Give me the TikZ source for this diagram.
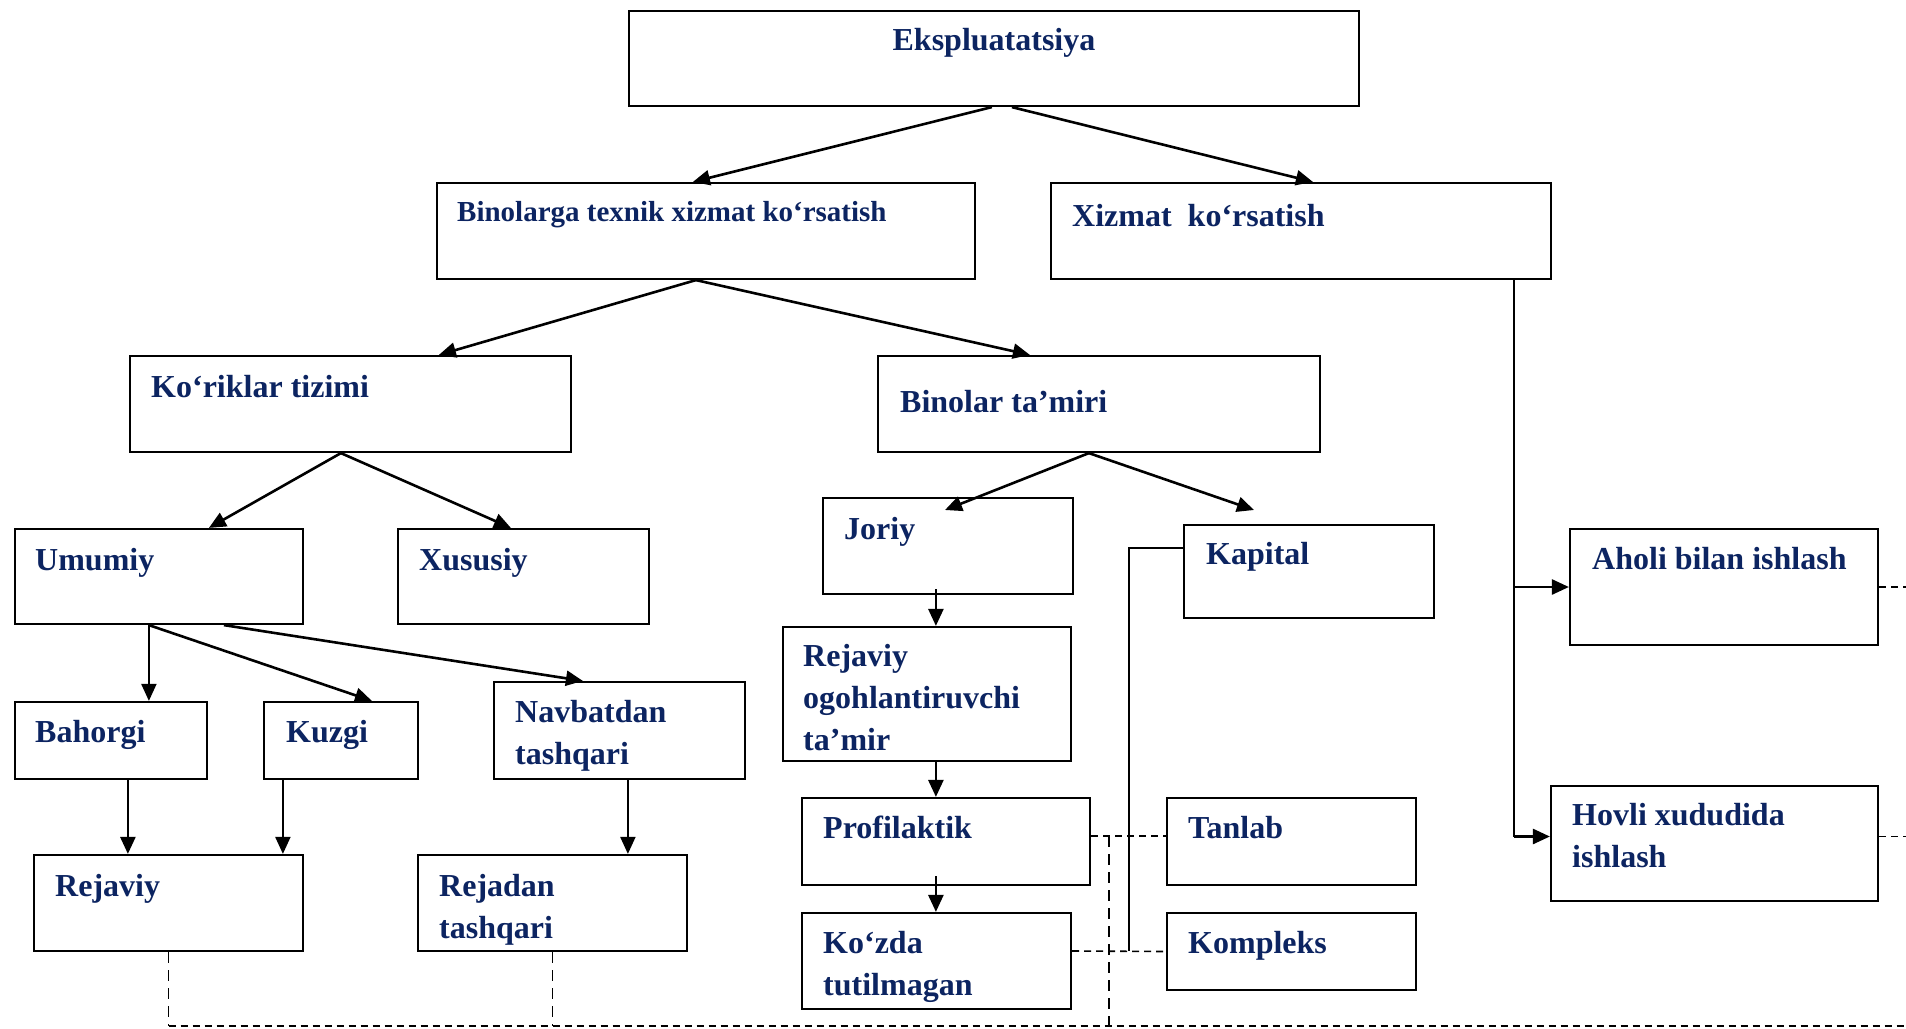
\documentclass[tikz,border=0pt]{standalone}
\usepackage{fontspec}
\setmainfont{Liberation Serif}
\usetikzlibrary{arrows.meta,calc}
\definecolor{navy}{RGB}{12,36,97}
\tikzset{
  box/.style={draw=black, line width=2.2pt, inner sep=0pt, fill=white},
  txt/.style={text=navy, font=\fontsize{32}{42}\selectfont\bfseries, inner sep=0pt, anchor=base west, align=left},
  arr/.style={line width=2.6pt, -{Triangle[length=17pt,width=15pt]}},
  arrthin/.style={line width=2pt, -{Triangle[length=17pt,width=15pt]}},
  thinline/.style={line width=1.8pt},
  dsh/.style={line width=1.6pt, dash pattern=on 7pt off 5pt},
  ldsh/.style={line width=1.4pt, dash pattern=on 11pt off 7pt}
}
\newcommand\mkbox[5]{\node[box, minimum width={#4-#2}, minimum height={#5-#3}] (#1) at ({(#2+#4)/2},{(#3+#5)/2}) {};}
\begin{document}
\begin{tikzpicture}[x=1pt,y=-1pt]
\fill[white] (0,0) rectangle (1906,1028);
\useasboundingbox (0,0) rectangle (1906,1028);
% boxes
\mkbox{eksp}{629}{11}{1359}{106}
\mkbox{bin}{437}{183}{975}{279}
\mkbox{xiz}{1051}{183}{1551}{279}
\mkbox{kor}{130}{356}{571}{452}
\mkbox{tam}{878}{356}{1320}{452}
\mkbox{umu}{15}{529}{303}{624}
\mkbox{xus}{398}{529}{649}{624}
\mkbox{jor}{823}{498}{1073}{594}
\mkbox{kap}{1184}{525}{1434}{618}
\mkbox{aho}{1570}{529}{1878}{645}
\mkbox{bah}{15}{702}{207}{779}
\mkbox{kuz}{264}{702}{418}{779}
\mkbox{nav}{494}{682}{745}{779}
\mkbox{ogo}{783}{627}{1071}{761}
\mkbox{pro}{802}{798}{1090}{885}
\mkbox{tan}{1167}{798}{1416}{885}
\mkbox{hov}{1551}{786}{1878}{901}
\mkbox{rej}{34}{855}{303}{951}
\mkbox{rjd}{418}{855}{687}{951}
\mkbox{koz}{802}{913}{1071}{1009}
\mkbox{kom}{1167}{913}{1416}{990}
% texts (multi-line nodes are anchored at the baseline of their last line)
\node[txt, anchor=base] (t-eksp) at (994,50) {Ekspluatatsiya};
\node[txt, font=\fontsize{29}{38}\selectfont\bfseries] (t-bin) at (457,221) {Binolarga texnik xizmat ko‘rsatish};
\node[txt] (t-xiz) at (1072,226) {Xizmat\ \ ko‘rsatish};
\node[txt] (t-kor) at (151,397) {Ko‘riklar tizimi};
\node[txt] (t-tam) at (900,412) {Binolar ta’miri};
\node[txt] (t-umu) at (35,570) {Umumiy};
\node[txt] (t-xus) at (419,570) {Xususiy};
\node[txt] (t-jor) at (844,539) {Joriy};
\node[txt] (t-kap) at (1206,564) {Kapital};
\node[txt] (t-aho) at (1592,569) {Aholi bilan ishlash};
\node[txt] (t-bah) at (35,742) {Bahorgi};
\node[txt] (t-kuz) at (286,742) {Kuzgi};
\node[txt] (t-nav) at (515,764) {Navbatdan\\tashqari};
\node[txt] (t-ogo) at (803,750) {Rejaviy\\ogohlantiruvchi\\ta’mir};
\node[txt] (t-pro) at (823,838) {Profilaktik};
\node[txt] (t-tan) at (1188,838) {Tanlab};
\node[txt] (t-hov) at (1572,867) {Hovli xududida\\ishlash};
\node[txt] (t-rej) at (55,896) {Rejaviy};
\node[txt] (t-rjd) at (439,938) {Rejadan\\tashqari};
\node[txt] (t-koz) at (823,995) {Ko‘zda\\tutilmagan};
\node[txt] (t-kom) at (1188,953) {Kompleks};
% free ends and helper coordinates
\coordinate (jtip) at (945,510);
\coordinate (ktip) at (1254,510);
\coordinate (kjoin) at (1129,951);
\coordinate (d1) at (1109,836);
\coordinate (bot) at (1906,1026);
\coordinate (vx) at ([xshift=-38pt]xiz.south east);
\coordinate (h1) at ([yshift=7pt]hov.west);
\coordinate (h2) at ([yshift=7pt]hov.east);
% solid arrows
\draw[arr] ([xshift=364pt]eksp.south west) -- ([xshift=257pt]bin.north west);
\draw[arr] ([xshift=384pt]eksp.south west) -- ([xshift=263pt]xiz.north west);
\draw[arr] ([xshift=260pt]bin.south west) -- ([xshift=310pt]kor.north west);
\draw[arr] ([xshift=260pt]bin.south west) -- ([xshift=153pt]tam.north west);
\draw[arr] ([xshift=212pt]kor.south west) -- ([xshift=195pt]umu.north west);
\draw[arr] ([xshift=212pt]kor.south west) -- ([xshift=114pt]xus.north west);
\draw[arr] ([xshift=212pt]tam.south west) -- (jtip);
\draw[arr] ([xshift=212pt]tam.south west) -- (ktip);
\draw[arrthin] ([xshift=135pt]umu.south west) -- ([xshift=135pt]bah.north west);
\draw[arr] ([xshift=135pt]umu.south west) -- ([xshift=109pt]kuz.north west);
\draw[arr] ([xshift=210pt]umu.south west) -- ([xshift=90pt]nav.north west);
\draw[arr] ([xshift=114pt]bah.south west) -- ([xshift=95pt]rej.north west);
\draw[arrthin] ([xshift=20pt]kuz.south west) -- ([xshift=250pt]rej.north west);
\draw[arrthin] ([xshift=135pt]nav.south west) -- ([xshift=211pt]rjd.north west);
\draw[arr] ([xshift=114pt,yshift=6pt]jor.south west) -- ([xshift=154pt]ogo.north west);
\draw[arr] ([xshift=154pt]ogo.south west) -- ([xshift=135pt]pro.north west);
\draw[arr] ([xshift=135pt,yshift=10pt]pro.south west) -- ([xshift=135pt]koz.north west);
% right branch
\draw[thinline] (vx) -- (vx |- h1);
\draw[arr] (vx |- aho.west) -- (aho.west);
\draw[arr] (vx |- h1) -- (h1);
% Kapital line
\draw[thinline] ([yshift=23.5pt]kap.west) -| (kjoin);
% dashed lines
\draw[dsh] ([yshift=5.5pt]pro.east) -- ([yshift=5.5pt]tan.west);
\draw[dsh] ([yshift=10pt]koz.east) -- (kom.west);
\draw[ldsh] (d1) -- (d1 |- bot);
\draw[ldsh] (rej.south) -- (rej.south |- bot);
\draw[ldsh] (rjd.south) -- (rjd.south |- bot);
\draw[dsh] (rej.south |- bot) -- (bot);
\draw[dsh] (aho.east) -- (aho.east -| bot);
\draw[dsh] (h2) -- (h2 -| bot);
\end{tikzpicture}
\end{document}
